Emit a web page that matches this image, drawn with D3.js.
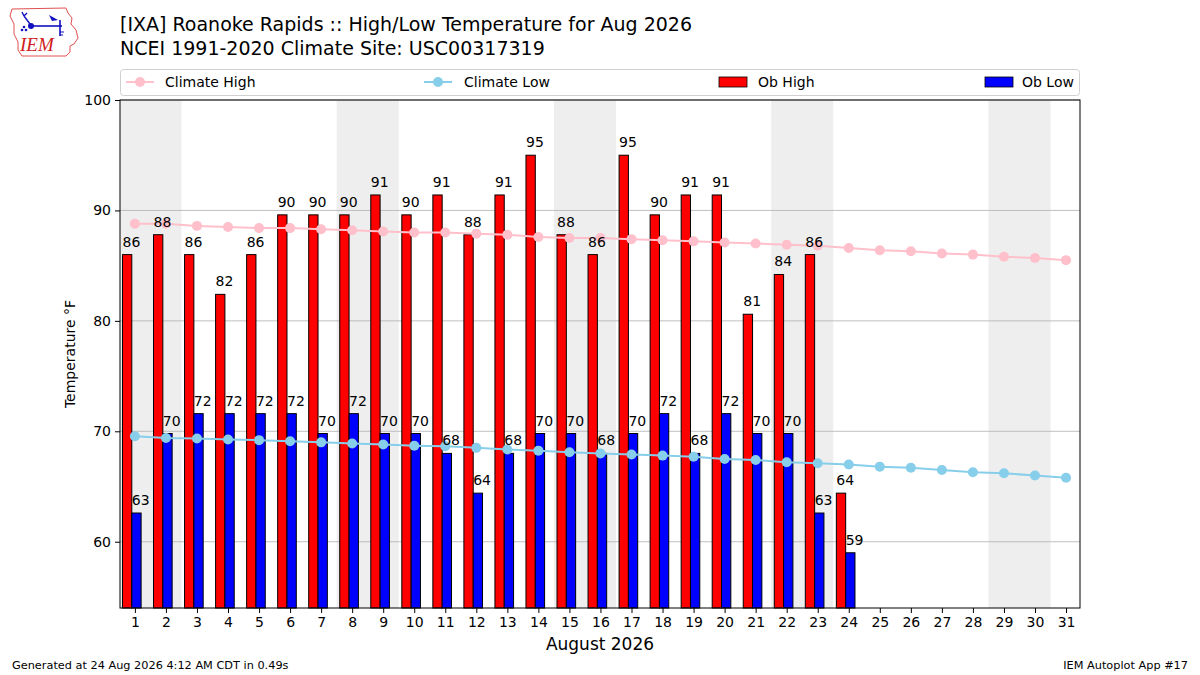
<!DOCTYPE html>
<html>
<head>
<meta charset="utf-8">
<script src="https://cdn.jsdelivr.net/npm/d3@7"></script>
<style>
  body { margin: 0; background: #fff; }
  svg { font-family: "DejaVu Sans", sans-serif; }
</style>
</head>
<body>
<div id="chart"></div>
<script>
// days of the month, observed highs / lows (F, converted from whole C) and climatology
var days = d3.range(1, 32);
var obDays = d3.range(1, 25);
var obHigh = [86, 87.8, 86, 82.4, 86, 89.6, 89.6, 89.6, 91.4, 89.6, 91.4, 87.8, 91.4, 95,
              87.8, 86, 95, 89.6, 91.4, 91.4, 80.6, 84.2, 86, 64.4];
var obLow = [62.6, 69.8, 71.6, 71.6, 71.6, 71.6, 69.8, 71.6, 69.8, 69.8, 68, 64.4, 68, 69.8,
             69.8, 68, 69.8, 71.6, 68, 71.6, 69.8, 69.8, 62.6, 59];
var climHigh = [88.8, 88.8, 88.6, 88.5, 88.4, 88.4, 88.3, 88.2, 88.1, 88.0, 88.0, 87.9, 87.8,
                87.6, 87.5, 87.5, 87.4, 87.3, 87.2, 87.1, 87.0, 86.9, 86.8, 86.6, 86.4, 86.3,
                86.1, 86.0, 85.8, 85.7, 85.5];
var climLow = [69.55, 69.4, 69.35, 69.25, 69.2, 69.1, 69.0, 68.9, 68.8, 68.7, 68.65, 68.5, 68.35,
               68.25, 68.1, 68.0, 67.9, 67.8, 67.7, 67.5, 67.4, 67.2, 67.1, 67.0, 66.8, 66.7,
               66.5, 66.3, 66.2, 66.0, 65.8];
var weekendStarts = [1, 8, 15, 22, 29];
var yTicks = [60, 70, 80, 90, 100];

var W = 1200, H = 675;
var m = {t: 100, r: 120, b: 67, l: 120},
    w = W - m.l - m.r,
    h = H - m.t - m.b;

var svg = d3.select('#chart').append('svg')
    .attr('width', W)
    .attr('height', H);

var x = d3.scaleLinear().domain([0.52, 31.45]).range([0, w]);
var y = d3.scaleLinear().domain([54, 100]).range([h, 0]);
var dayW = x(1) - x(0);

// logo
var logo = svg.append('g');
logo.append('path')
    .attr('d', 'M12,9 L66,8 L68,13 L72,18 L71,24 L76,30 L78,38 L74,44 L70,46 L70,52 L66,56 L22,56 L18,50 L18,42 L14,34 L14,24 L10,16 Z')
    .attr('fill', 'none').attr('stroke', '#e05050').attr('stroke-width', 1);
logo.append('text').attr('x', 20).attr('y', 51)
    .attr('font-family', 'Liberation Serif, serif').attr('font-style', 'italic')
    .attr('font-size', 19).attr('fill', '#d02020').text('IEM');
var bl = '#1010c0';
logo.append('line').attr('x1', 31).attr('y1', 26).attr('x2', 62).attr('y2', 26).attr('stroke', bl).attr('stroke-width', 1.6);
logo.append('circle').attr('cx', 31).attr('cy', 26).attr('r', 3).attr('fill', bl);
logo.append('path').attr('d', 'M30,24 L24,16 M24,16 L22,12 M24,16 L27,13').attr('stroke', bl).attr('fill', 'none').attr('stroke-width', 1.4);
logo.append('path').attr('d', 'M49,15 L58,20 L52,21 Z').attr('fill', bl);
logo.append('line').attr('x1', 60).attr('y1', 20).attr('x2', 60).attr('y2', 36).attr('stroke', bl).attr('stroke-width', 1.6);
logo.append('path').attr('d', 'M60,32 L64,32 M60,35 L63,35').attr('stroke', bl).attr('stroke-width', 1);
logo.append('circle').attr('cx', 24).attr('cy', 27).attr('r', 1.3).attr('fill', bl);
logo.append('circle').attr('cx', 22).attr('cy', 30).attr('r', 1.3).attr('fill', bl);
logo.append('circle').attr('cx', 26).attr('cy', 30).attr('r', 1.3).attr('fill', bl);

// titles
svg.append('text').attr('x', 120).attr('y', 31).attr('font-size', 19)
    .text('[IXA] Roanoke Rapids :: High/Low Temperature for Aug 2026');
svg.append('text').attr('x', 120).attr('y', 55).attr('font-size', 19)
    .text('NCEI 1991-2020 Climate Site: USC00317319');

// legend
var leg = svg.append('g');
leg.append('rect').attr('x', 120.5).attr('y', 69.5).attr('width', 959).attr('height', 26)
    .attr('rx', 3).attr('fill', '#fff').attr('stroke', '#d0d0d0');
var ly = 82;
[[126, 'pink', 'Climate High', 165], [424, 'skyblue', 'Climate Low', 464]].forEach(function(d){
    leg.append('line').attr('x1', d[0]).attr('x2', d[0] + 28).attr('y1', ly).attr('y2', ly)
        .attr('stroke', d[1]).attr('stroke-width', 2);
    leg.append('circle').attr('cx', d[0] + 14).attr('cy', ly).attr('r', 5).attr('fill', d[1]);
    leg.append('text').attr('x', d[3]).attr('y', ly + 5).attr('font-size', 14).text(d[2]);
});
[[719, 'red', 'Ob High', 758], [985, 'blue', 'Ob Low', 1022]].forEach(function(d){
    leg.append('rect').attr('x', d[0]).attr('y', ly - 5).attr('width', 28).attr('height', 10)
        .attr('fill', d[1]).attr('stroke', '#000').attr('stroke-width', 0.8);
    leg.append('text').attr('x', d[3]).attr('y', ly + 5).attr('font-size', 14).text(d[2]);
});

var plot = svg.append('g').attr('transform', 'translate(' + m.l + ',' + m.t + ')');

// weekend shading
plot.selectAll('rect.wk').data(weekendStarts).enter().append('rect')
    .attr('class', 'wk')
    .attr('x', function(d){ return Math.max(0, x(d - 0.5)); })
    .attr('width', function(d){ return x(d + 1.5) - Math.max(0, x(d - 0.5)); })
    .attr('y', 0).attr('height', h)
    .attr('fill', '#eeeeee');

// grid
plot.selectAll('line.grid').data(yTicks).enter().append('line')
    .attr('class', 'grid')
    .attr('x1', 0).attr('x2', w)
    .attr('y1', function(d){ return y(d); }).attr('y2', function(d){ return y(d); })
    .attr('stroke', '#b0b0b0').attr('stroke-width', 0.8);

// bars
plot.selectAll('rect.hi').data(obHigh).enter().append('rect')
    .attr('class', 'hi')
    .attr('x', function(d, i){ return x(obDays[i] - 0.4); })
    .attr('width', dayW * 0.3)
    .attr('y', function(d){ return y(d); })
    .attr('height', function(d){ return h - y(d); })
    .attr('fill', 'red').attr('stroke', '#000').attr('stroke-width', 1);
plot.selectAll('rect.lo').data(obLow).enter().append('rect')
    .attr('class', 'lo')
    .attr('x', function(d, i){ return x(obDays[i] - 0.1); })
    .attr('width', dayW * 0.3)
    .attr('y', function(d){ return y(d); })
    .attr('height', function(d){ return h - y(d); })
    .attr('fill', 'blue').attr('stroke', '#000').attr('stroke-width', 1);

// climate lines
function climLine(vals, color){
    var line = d3.line()
        .x(function(d, i){ return x(days[i]); })
        .y(function(d){ return y(d); });
    plot.append('path').datum(vals)
        .attr('d', line).attr('fill', 'none')
        .attr('stroke', color).attr('stroke-width', 2);
    plot.selectAll('circle.' + color).data(vals).enter().append('circle')
        .attr('class', color)
        .attr('cx', function(d, i){ return x(days[i]); })
        .attr('cy', function(d){ return y(d); })
        .attr('r', 5).attr('fill', color);
}
climLine(climHigh, 'pink');
climLine(climLow, 'skyblue');

// bar labels, left aligned on the bar's left edge
function barLabels(vals, off, cls){
    plot.selectAll('text.' + cls).data(vals).enter().append('text')
        .attr('class', cls)
        .attr('x', function(d, i){ return x(obDays[i] + off); })
        .attr('y', function(d){ return y(d) - 8; })
        .attr('font-size', 14)
        .text(function(d){ return Math.round(d); });
}
barLabels(obHigh, -0.4, 'lhi');
barLabels(obLow, -0.1, 'llo');

// frame
plot.append('rect').attr('x', 0).attr('y', 0).attr('width', w).attr('height', h)
    .attr('fill', 'none').attr('stroke', '#000').attr('stroke-width', 1);

// axes
var xAxis = plot.append('g').attr('transform', 'translate(0,' + h + ')')
    .call(d3.axisBottom(x).tickValues(days).tickSize(5).tickPadding(4).tickFormat(d3.format('d')));
var yAxis = plot.append('g')
    .call(d3.axisLeft(y).tickValues(yTicks).tickSize(5).tickPadding(4));
[xAxis, yAxis].forEach(function(a){
    a.select('.domain').remove();
    a.selectAll('text').attr('font-size', 14).attr('font-family', 'DejaVu Sans').attr('fill', '#000');
    a.selectAll('line').attr('stroke', '#000');
});

plot.append('text').attr('x', w / 2).attr('y', h + 42).attr('text-anchor', 'middle')
    .attr('font-size', 17).text('August 2026');
plot.append('text').attr('transform', 'translate(' + (-45) + ',' + (h / 2) + ') rotate(-90)')
    .attr('text-anchor', 'middle').attr('font-size', 14).text('Temperature °F');

// footer
svg.append('text').attr('x', 12).attr('y', 669).attr('font-size', 11.3).text('Generated at 24 Aug 2026 4:12 AM CDT in 0.49s');
svg.append('text').attr('x', 1188).attr('y', 669).attr('font-size', 11.3).attr('text-anchor', 'end').text('IEM Autoplot App #17');
</script>
</body>
</html>
